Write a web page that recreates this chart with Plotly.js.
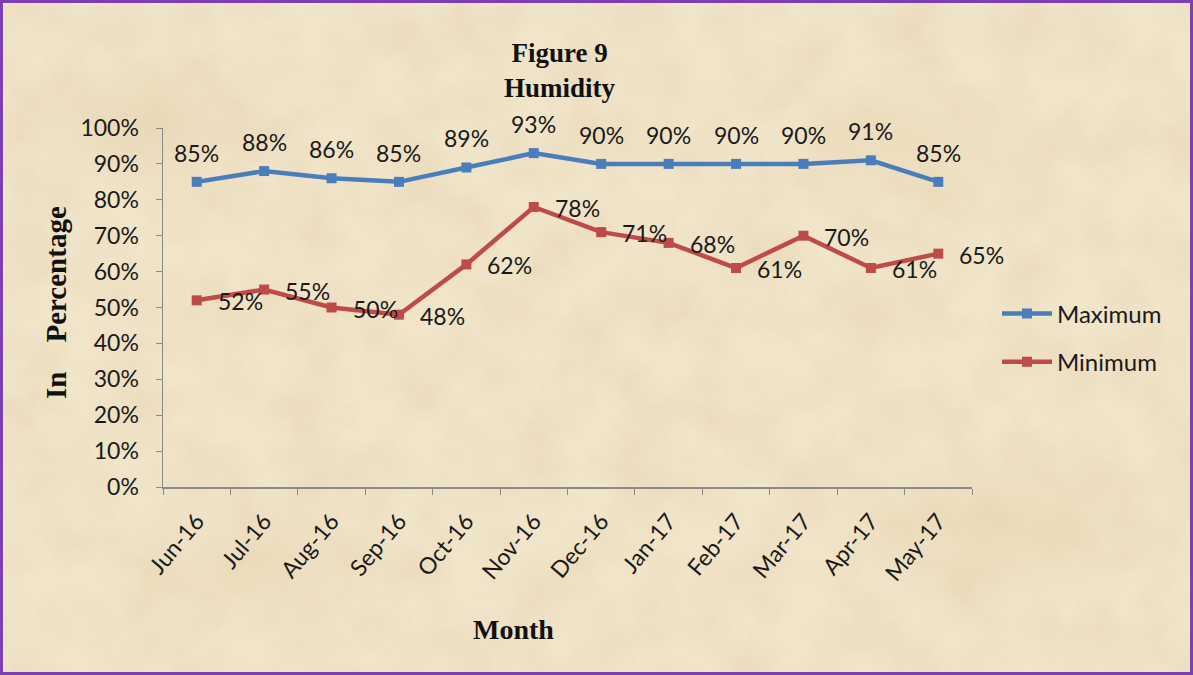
<!DOCTYPE html>
<html>
<head>
<meta charset="utf-8">
<script src="https://cdn.plot.ly/plotly-3.0.1.min.js"></script>
<style>
html,body{margin:0;padding:0;}
#wrap{
  position:relative;width:1193px;height:675px;box-sizing:border-box;
  border:3px solid #7a3fb0;
  background-color:#f0e4c9;
  background-image:
    url("data:image/svg+xml;utf8,<svg xmlns='http://www.w3.org/2000/svg' width='1193' height='675'><filter id='n'><feTurbulence type='fractalNoise' baseFrequency='0.018' numOctaves='5' seed='7'/><feColorMatrix values='0 0 0 0 0.80  0 0 0 0 0.66  0 0 0 0 0.44  1.1 0 0 0 -0.42'/></filter><rect width='100%' height='100%' filter='url(%23n)'/></svg>"),
    radial-gradient(ellipse 200px 100px at 150px 120px, rgba(222,198,156,0.35), rgba(222,198,156,0) 70%),
    radial-gradient(ellipse 200px 100px at 900px 140px, rgba(226,204,160,0.3), rgba(226,204,160,0) 70%),
    radial-gradient(ellipse 260px 120px at 1000px 520px, rgba(222,198,150,0.3), rgba(222,198,150,0) 70%),
    radial-gradient(ellipse 240px 110px at 260px 560px, rgba(228,206,164,0.3), rgba(228,206,164,0) 70%);
}
#chart{position:absolute;left:-3px;top:-3px;width:1193px;height:675px;}
</style>
</head>
<body>
<div id="wrap"><div id="chart"></div></div>
<script>
// ---- data ----
var months = ["Jun-16","Jul-16","Aug-16","Sep-16","Oct-16","Nov-16","Dec-16","Jan-17","Feb-17","Mar-17","Apr-17","May-17"];
var maximum = [85, 88, 86, 85, 89, 93, 90, 90, 90, 90, 91, 85];
var minimum = [52, 55, 50, 48, 62, 78, 71, 68, 61, 70, 61, 65];
var yTickVals = [0,10,20,30,40,50,60,70,80,90,100];
var yTickText = ["0%","10%","20%","30%","40%","50%","60%","70%","80%","90%","100%"];

var sansFam = "Lato, 'Open Sans', sans-serif";
var labelFont = {family: sansFam, size: 23, color: "#1a1a1a"};
var serifBold = "'Liberation Serif', 'Times New Roman', serif";

var traces = [
  {
    x: months, y: maximum, type: "scatter", mode: "lines+markers", name: "Maximum",
    line: {color: "#4a7ebb", width: 4.5}, marker: {symbol: "square", size: 10, color: "#4a7ebb"},
    legendgroup: "a", hoverinfo: "skip"
  },
  {
    x: months, y: minimum, type: "scatter", mode: "lines+markers", name: "Minimum",
    line: {color: "#be4b48", width: 4.5}, marker: {symbol: "square", size: 10, color: "#be4b48"},
    legendgroup: "b", hoverinfo: "skip"
  }
];

var annotations = [];
// data labels for Maximum: above points
maximum.forEach(function(v, i){
  annotations.push({
    x: months[i], y: v, xref: "x", yref: "y", text: v + "%", showarrow: false,
    font: labelFont, yshift: 29, xanchor: "center", yanchor: "middle"
  });
});
// data labels for Minimum: right of points
minimum.forEach(function(v, i){
  annotations.push({
    x: months[i], y: v, xref: "x", yref: "y", text: v + "%", showarrow: false,
    font: labelFont, xshift: 19, yshift: -1, xanchor: "left", yanchor: "middle"
  });
});
// title
annotations.push({
  xref: "paper", yref: "paper", x: (560-163)/809, y: 1 + (128-70)/359,
  text: "<b>Figure 9</b><br><b>Humidity</b>", showarrow: false,
  font: {family: serifBold, size: 27, color: "#111"}, xanchor: "center", yanchor: "middle"
});
// y axis title
annotations.push({
  xref: "paper", yref: "paper", x: (56-163)/809, y: (487-303)/359,
  text: "<b>In    Percentage</b>", showarrow: false, textangle: -90,
  font: {family: serifBold, size: 29, color: "#111"}, xanchor: "center", yanchor: "middle"
});
// x axis title
annotations.push({
  xref: "paper", yref: "paper", x: (513-163)/809, y: -(629-487)/359,
  text: "<b>Month</b>", showarrow: false,
  font: {family: serifBold, size: 28, color: "#111"}, xanchor: "center", yanchor: "middle"
});

var layout = {
  width: 1193, height: 675,
  paper_bgcolor: "rgba(0,0,0,0)", plot_bgcolor: "rgba(0,0,0,0)",
  margin: {l: 163, r: 221, t: 128, b: 188, pad: 0},
  showlegend: true,
  legend: {
    x: (997-163)/809, y: (487-338)/359, xanchor: "left", yanchor: "middle",
    bgcolor: "rgba(0,0,0,0)", font: {family: sansFam, size: 24, color: "#1a1a1a"},
    traceorder: "grouped", tracegroupgap: 14, itemwidth: 50
  },
  xaxis: {
    type: "category", range: [-0.5, 11.5], showgrid: false, zeroline: false,
    showline: true, linecolor: "#8a8a8a", linewidth: 1.5,
    ticks: "outside", ticklen: 6, tickcolor: "#8a8a8a", tickson: "boundaries",
    tickangle: -50, tickfont: labelFont, ticklabelstandoff: 10, fixedrange: true
  },
  yaxis: {
    range: [0, 100], tickvals: yTickVals, ticktext: yTickText,
    showgrid: false, zeroline: false, showline: true, linecolor: "#8a8a8a", linewidth: 1.5,
    ticks: "outside", ticklen: 6, tickcolor: "#8a8a8a", tickfont: labelFont,
    ticklabelstandoff: 12, fixedrange: true
  },
  annotations: annotations
};

Plotly.newPlot("chart", traces, layout, {displayModeBar: false, staticPlot: true});
</script>
</body>
</html>
